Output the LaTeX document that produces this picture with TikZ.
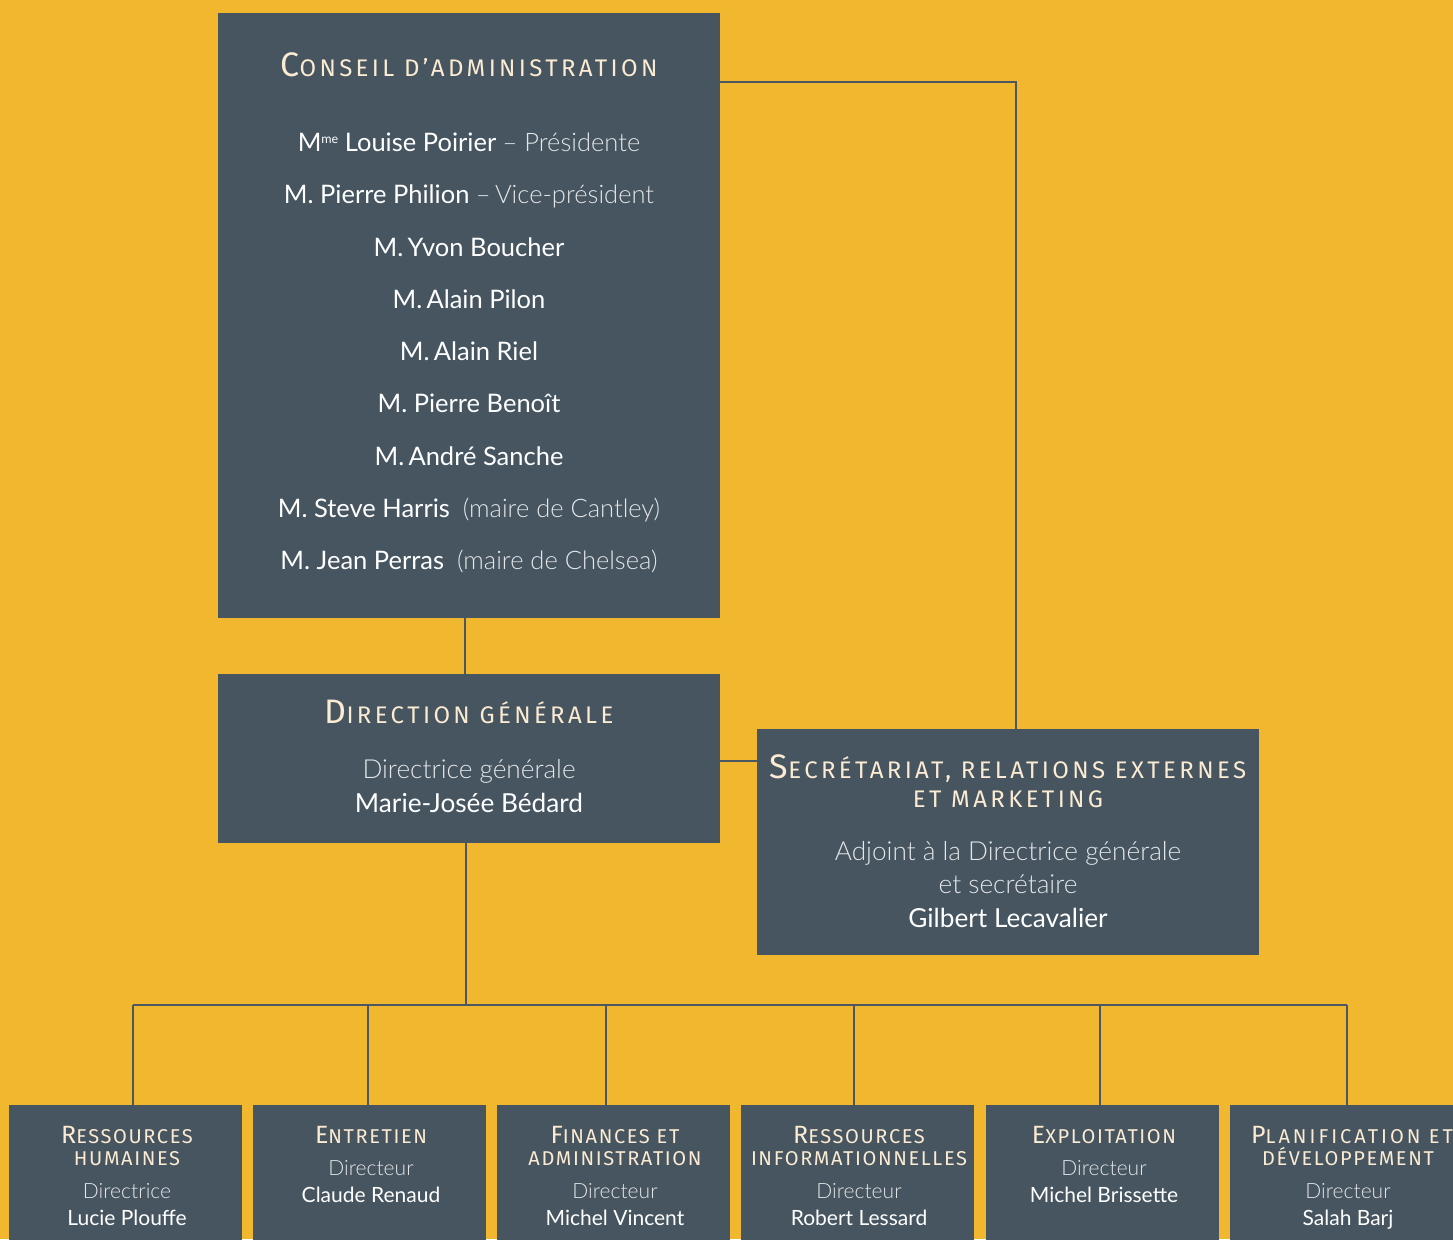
\documentclass[tikz,border=0pt]{standalone}
\usepackage{fontspec}
\setmainfont{Lato}
\IfFontExistsTF{Lato Light}{\newfontfamily\lightfont{Lato Light}}{\newfontfamily\lightfont{Lato}}
\newfontfamily\titlefont{Fira Sans}[LetterSpace=14]
\newfontfamily\titlefontsm{Fira Sans}[LetterSpace=8]
\newfontfamily\titlefontwide{Fira Sans}[LetterSpace=15]
\definecolor{bg}{HTML}{F0B72F}
\definecolor{boxc}{HTML}{465560}
\definecolor{cream}{HTML}{FBEBD2}
\definecolor{rolec}{HTML}{E4E6E8}
\definecolor{linec}{HTML}{4A5863}
\newcommand\bigttl[2]{{\titlefont\fontsize{34}{36}\selectfont #1\fontsize{24}{26}\selectfont #2}}
\newcommand\smttl[2]{{\titlefontsm\fontsize{25}{27}\selectfont #1\fontsize{20}{22}\selectfont #2}}
\newcommand\wdttl[2]{{\titlefontwide\fontsize{25}{27}\selectfont #1\fontsize{20}{22}\selectfont #2}}
\newcommand\rl[1]{{\lightfont\color{rolec}#1}}
\newcommand\msup{M\raisebox{8pt}{\fontsize{12.5}{12.5}\selectfont me}}
\tikzset{
  panel/.style={fill=boxc, draw=none, inner sep=0pt},
  txt/.style={anchor=base, inner sep=0pt, text=white},
  nmbig/.style={txt, font=\fontsize{25.5}{28}\selectfont},
  nmmid/.style={txt, font=\fontsize{26.2}{28}\selectfont},
  nmsm/.style={txt, font=\fontsize{21}{24}\selectfont},
  ttl/.style={anchor=base, inner sep=0pt, text=cream},
  conn/.style={draw=linec, line width=2.5pt}
}
\begin{document}
\begin{tikzpicture}[x=1pt, y={(0pt,-1pt)}]
\fill[bg] (0,0) rectangle (1453,1239);
\useasboundingbox (0,0) rectangle (1453,1239);
% panels
\node[panel, minimum width=502pt, minimum height=605pt] (ca) at (469,315.5) {};
\node[panel, minimum width=502pt, minimum height=169pt] (dg) at (469,758.5) {};
\node[panel, minimum width=502pt, minimum height=226pt] (sec) at (1008,842) {};
\node[panel, minimum width=233pt, minimum height=145pt] (b1) at (125.5,1177.5) {};
\node[panel, minimum width=233pt, minimum height=145pt] (b2) at (369.5,1177.5) {};
\node[panel, minimum width=233pt, minimum height=145pt] (b3) at (613.5,1177.5) {};
\node[panel, minimum width=233pt, minimum height=145pt] (b4) at (857.5,1177.5) {};
\node[panel, minimum width=233pt, minimum height=145pt] (b5) at (1102.5,1177.5) {};
\node[panel, minimum width=237pt, minimum height=145pt] (b6) at (1348.5,1177.5) {};
% connectors
\coordinate (bus) at (466,1005);
\coordinate (crn) at (1016,82);
\coordinate (cd) at (465,646);
\draw[conn] (ca.south -| cd) -- (dg.north -| cd);
\draw[conn] (ca.east |- crn) -- (crn) -- (crn |- sec.north);
\draw[conn] (dg.east |- 0,761) -- (sec.west |- 0,761);
\draw[conn] (dg.south -| bus) -- (bus);
\coordinate (v1) at (133,1005);
\coordinate (v2) at (368,1005);
\coordinate (v3) at (606,1005);
\coordinate (v4) at (854,1005);
\coordinate (v5) at (1100,1005);
\coordinate (v6) at (1347,1005);
\draw[conn] (v1) -- (v6);
\foreach \i in {1,...,6}{\draw[conn] (v\i) -- (v\i |- b\i.north);}
% Conseil
\node[ttl] (cat) at (469,76) {\bigttl{C}{ONSEIL D’ADMINISTRATION}};
\node[nmbig] (c1) at (469,151) {\msup{} Louise Poirier \rl{– Présidente}};
\node[nmbig] (c2) at (469,203) {M. Pierre Philion \rl{–\,Vice-président}};
\node[nmbig] (c3) at (469,256) {M.\,Yvon Boucher};
\node[nmbig] (c4) at (469,308) {M.\,Alain Pilon};
\node[nmbig] (c5) at (469,360) {M.\,Alain Riel};
\node[nmbig] (c6) at (469,412) {M. Pierre Benoît};
\node[nmbig] (c7) at (469,465) {M.\,André Sanche};
\node[nmbig] (c8) at (469,517) {M. Steve Harris \ \rl{(maire de Cantley)}};
\node[nmbig] (c9) at (469,569) {M. Jean Perras \ \rl{(maire de Chelsea)}};
% Direction
\node[ttl] (dgt) at (469,723) {\bigttl{D}{IRECTION GÉNÉRALE}};
\node[nmmid] (dg1) at (469,778) {\rl{Directrice générale}};
\node[nmmid] (dg2) at (469,812) {Marie-Josée Bédard};
% Secretariat
\node[ttl] (st1) at (1008,778) {\bigttl{S}{ECRÉTARIAT, RELATIONS EXTERNES}};
\node[ttl] (st2) at (1008,807) {\bigttl{}{ET MARKETING}};
\node[nmmid] (s1) at (1008,860) {\rl{Adjoint à la Directrice générale}};
\node[nmmid] (s2) at (1008,893) {\rl{et secrétaire}};
\node[nmmid] (s3) at (1008,927) {Gilbert Lecavalier};
% bottom boxes
\node[ttl] (t1a) at (127,1143) {\smttl{R}{ESSOURCES}};
\node[ttl] (t1b) at (127,1165) {\smttl{}{HUMAINES}};
\node[nmsm] (r1) at (127,1198) {\rl{Directrice}};
\node[nmsm] (n1) at (127,1225) {Lucie Plouffe};
\node[ttl] (t2a) at (371,1143) {\smttl{E}{NTRETIEN}};
\node[nmsm] (r2) at (371,1175) {\rl{Directeur}};
\node[nmsm] (n2) at (371,1202) {Claude Renaud};
\node[ttl] (t3a) at (615,1143) {\smttl{F}{INANCES ET}};
\node[ttl] (t3b) at (615,1165) {\smttl{}{ADMINISTRATION}};
\node[nmsm] (r3) at (615,1198) {\rl{Directeur}};
\node[nmsm] (n3) at (615,1225) {Michel Vincent};
\node[ttl] (t4a) at (859,1143) {\smttl{R}{ESSOURCES}};
\node[ttl] (t4b) at (859,1165) {\smttl{}{INFORMATIONNELLES}};
\node[nmsm] (r4) at (859,1198) {\rl{Directeur}};
\node[nmsm] (n4) at (859,1225) {Robert Lessard};
\node[ttl] (t5a) at (1104,1143) {\smttl{E}{XPLOITATION}};
\node[nmsm] (r5) at (1104,1175) {\rl{Directeur}};
\node[nmsm] (n5) at (1104,1202) {Michel Brissette};
\node[ttl] (t6a) at (1352,1143) {\wdttl{P}{LANIFICATION ET}};
\node[ttl] (t6b) at (1348,1165) {\smttl{}{DÉVELOPPEMENT}};
\node[nmsm] (r6) at (1348,1198) {\rl{Directeur}};
\node[nmsm] (n6) at (1348,1225) {Salah Barj};
\end{tikzpicture}
\end{document}
